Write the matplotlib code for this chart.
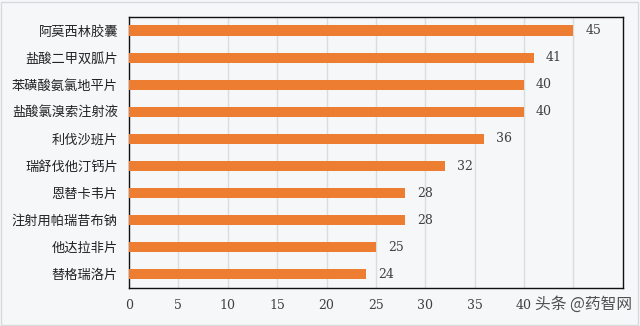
import matplotlib.pyplot as plt
from matplotlib.patches import Rectangle

plt.rcParams['font.family'] = ['Noto Sans CJK SC', 'DejaVu Sans']

drugs = ["阿莫西林胶囊", "盐酸二甲双胍片", "苯磺酸氨氯地平片", "盐酸氯溴索注射液", "利伐沙班片",
         "瑞舒伐他汀钙片", "恩替卡韦片", "注射用帕瑞昔布钠", "他达拉非片", "替格瑞洛片"]
counts = [45, 41, 40, 40, 36, 32, 28, 28, 25, 24]
xticks = [0, 5, 10, 15, 20, 25, 30, 35, 40]
grid_x = [5, 10, 15, 20, 25, 30, 35, 40, 45]

bg = "#f6f7f9"
fig = plt.figure(figsize=(6.4, 3.26), dpi=100, facecolor=bg)
fig.patches.append(Rectangle((0.002, 0.003), 0.995, 0.992, transform=fig.transFigure,
                             fill=False, edgecolor="#d8dade", linewidth=1))
ax = fig.add_axes([0.2016, 0.1166, 0.7714, 0.8314])
ax.set_facecolor(bg)

# vertical grid lines, 45 included even though its label is hidden
for gx in grid_x:
    ax.axvline(gx, color="#dcdcdc", linewidth=1, zorder=0)

y = list(range(len(drugs)))
ax.barh(y, counts, height=0.37, color="#ed7d31", zorder=3)
for yi, v in zip(y, counts):
    ax.text(v + 1.2, yi, str(v), va="center", ha="left", fontsize=9,
            family=["DejaVu Serif"], color="#404040")

ax.set_yticks(y)
ax.set_yticklabels(drugs, fontsize=9.5, color="#222222")
ax.set_ylim(len(drugs) - 0.5, -0.5)
ax.set_xlim(0, 50)
ax.set_xticks(xticks)
ax.set_xticklabels([str(t) for t in xticks], fontsize=9, family=["DejaVu Serif"], color="#404040")
ax.tick_params(length=0, pad=8)
for s in ax.spines.values():
    s.set_color("#111111")
    s.set_linewidth(1)

fig.text(0.988, 0.04, "头条 @药智网", ha="right", va="bottom", fontsize=11.3, color="#505050")

fig.savefig("out.png", dpi=100, facecolor=bg)
